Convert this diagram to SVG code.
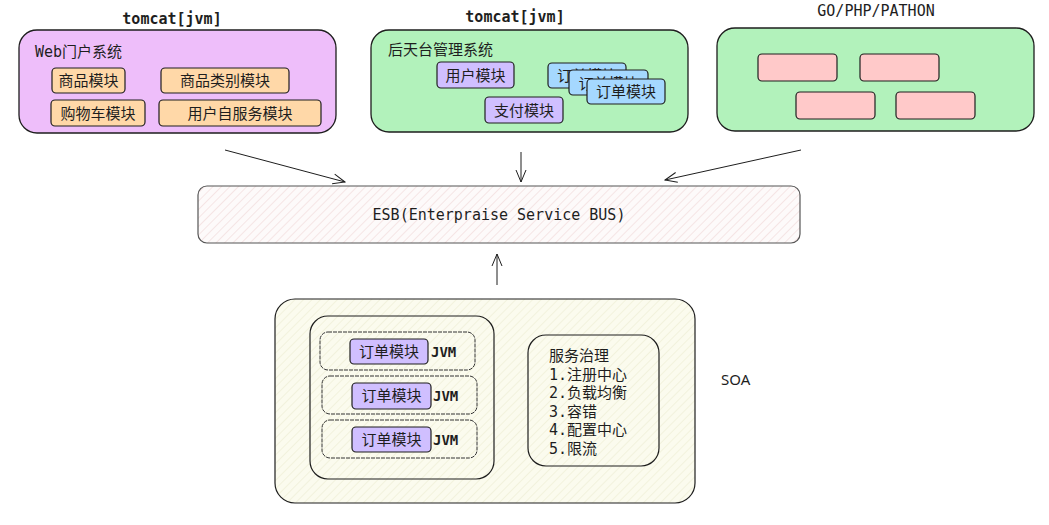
<svg xmlns="http://www.w3.org/2000/svg" width="1049" height="525" viewBox="0 0 1049 525">
<defs>
<pattern id="hatchPink" width="6" height="6" patternUnits="userSpaceOnUse" patternTransform="rotate(45)">
<rect width="6" height="6" fill="#fdfafa"/>
<line x1="0" y1="0" x2="0" y2="6" stroke="#f0d8d8" stroke-width="1.2"/>
</pattern>
<pattern id="hatchYellow" width="6" height="6" patternUnits="userSpaceOnUse" patternTransform="rotate(45)">
<rect width="6" height="6" fill="#fbfbee"/>
<line x1="0" y1="0" x2="0" y2="6" stroke="#ececd2" stroke-width="1.2"/>
</pattern>
<marker id="arr" markerWidth="14" markerHeight="12" refX="13" refY="6" orient="auto" markerUnits="userSpaceOnUse">
<path d="M1,1 L13,6 L1,11" fill="none" stroke="#1e1e1e" stroke-width="1"/>
</marker>
</defs>
<style>
.mono{font-family:"DejaVu Sans Mono","Liberation Mono","Noto Sans CJK SC",monospace;fill:#1e1e1e}
.cjk{font-family:"DejaVu Sans Mono","Noto Sans CJK SC",monospace;fill:#1e1e1e}
.box{stroke:#1e1e1e;stroke-width:1.3}
.mod{stroke:#1e1e1e;stroke-width:1.2}
.dash{fill:none;stroke:#333;stroke-width:1;stroke-dasharray:4 1}
.conn{fill:none;stroke:#1e1e1e;stroke-width:1}
.jvm{font-weight:bold}
</style>
<rect width="1049" height="525" fill="#ffffff"/>

<g id="web">
<text class="mono" x="172" y="24" font-size="15" font-weight="bold" text-anchor="middle">tomcat[jvm]</text>
<rect class="box" x="19" y="30" width="317" height="103" rx="18" fill="#eebefa"/>
<text class="cjk" x="35" y="57" font-size="15">Web门户系统</text>
<rect class="mod" x="52" y="68" width="73" height="25" rx="4" fill="#ffd8a8"/>
<text class="cjk" x="88.5" y="86" font-size="15" text-anchor="middle">商品模块</text>
<rect class="mod" x="161" y="68" width="128" height="25" rx="4" fill="#ffd8a8"/>
<text class="cjk" x="225" y="86" font-size="15" text-anchor="middle">商品类别模块</text>
<rect class="mod" x="51" y="100" width="94" height="26" rx="4" fill="#ffd8a8"/>
<text class="cjk" x="98" y="119" font-size="15" text-anchor="middle">购物车模块</text>
<rect class="mod" x="159" y="100" width="162" height="26" rx="4" fill="#ffd8a8"/>
<text class="cjk" x="240" y="119" font-size="15" text-anchor="middle">用户自服务模块</text>
</g>

<g id="admin">
<text class="mono" x="515" y="22" font-size="15" font-weight="bold" text-anchor="middle">tomcat[jvm]</text>
<rect class="box" x="371" y="30" width="317" height="102" rx="18" fill="#b2f2bb"/>
<text class="cjk" x="388" y="55" font-size="15">后天台管理系统</text>
<rect class="mod" x="437" y="62" width="77" height="26" rx="4" fill="#d0bfff"/>
<text class="cjk" x="475.5" y="81" font-size="15" text-anchor="middle">用户模块</text>
<rect class="mod" x="485" y="97" width="78" height="26" rx="4" fill="#d0bfff"/>
<text class="cjk" x="524" y="116" font-size="15" text-anchor="middle">支付模块</text>
<rect class="mod" x="548" y="63" width="78" height="25" rx="4" fill="#a5d8ff"/>
<text class="cjk" x="587" y="81" font-size="15" text-anchor="middle">订单模块</text>
<rect class="mod" x="569" y="70" width="79" height="25" rx="4" fill="#a5d8ff"/>
<text class="cjk" x="608.5" y="89" font-size="15" text-anchor="middle">订单模块</text>
<rect class="mod" x="587" y="79" width="78" height="25" rx="4" fill="#a5d8ff"/>
<text class="cjk" x="626" y="97" font-size="15" text-anchor="middle">订单模块</text>
</g>

<g id="other">
<text class="mono" x="876" y="16" font-size="15" text-anchor="middle">GO/PHP/PATHON</text>
<rect class="box" x="717" y="28" width="317" height="103" rx="18" fill="#b2f2bb"/>
<rect class="mod" x="758" y="54" width="79" height="27" rx="4" fill="#ffc9c9"/>
<rect class="mod" x="860" y="54" width="79" height="27" rx="4" fill="#ffc9c9"/>
<rect class="mod" x="796" y="92" width="79" height="27" rx="4" fill="#ffc9c9"/>
<rect class="mod" x="896" y="92" width="79" height="27" rx="4" fill="#ffc9c9"/>
</g>

<g id="esb">
<rect x="198" y="186" width="602" height="57" rx="9" fill="url(#hatchPink)" stroke="#555" stroke-width="1.2"/>
<text class="mono" x="499" y="220" font-size="15" text-anchor="middle">ESB(Enterpraise Service BUS)</text>
</g>

<g id="soa">
<rect x="275" y="299" width="420" height="204" rx="20" fill="url(#hatchYellow)" stroke="#1e1e1e" stroke-width="1.2"/>
<rect x="310" y="316" width="184" height="163" rx="18" fill="none" stroke="#1e1e1e" stroke-width="1.2"/>
<rect class="dash" x="320" y="332" width="155" height="38" rx="8"/>
<rect class="dash" x="322" y="376" width="155" height="38" rx="8"/>
<rect class="dash" x="322" y="420" width="155" height="38" rx="8"/>
<rect class="mod" x="350" y="339" width="78" height="25" rx="4" fill="#d0bfff"/>
<text class="cjk" x="389" y="357" font-size="15" text-anchor="middle">订单模块</text>
<text class="mono jvm" x="431" y="357" font-size="14">JVM</text>
<rect class="mod" x="352" y="383" width="79" height="26" rx="4" fill="#d0bfff"/>
<text class="cjk" x="391.5" y="401" font-size="15" text-anchor="middle">订单模块</text>
<text class="mono jvm" x="433" y="401" font-size="14">JVM</text>
<rect class="mod" x="352" y="427" width="79" height="25" rx="4" fill="#d0bfff"/>
<text class="cjk" x="391.5" y="445" font-size="15" text-anchor="middle">订单模块</text>
<text class="mono jvm" x="433" y="445" font-size="14">JVM</text>
<rect x="528" y="335" width="131" height="131" rx="18" fill="none" stroke="#1e1e1e" stroke-width="1.2"/>
<text class="cjk" font-size="15">
<tspan x="549" y="361">服务治理</tspan>
<tspan x="549" y="380">1.注册中心</tspan>
<tspan x="549" y="398">2.负载均衡</tspan>
<tspan x="549" y="417">3.容错</tspan>
<tspan x="549" y="435">4.配置中心</tspan>
<tspan x="549" y="454">5.限流</tspan>
</text>
<text x="721" y="385" font-family="'Noto Sans','Liberation Sans',sans-serif" font-size="15" fill="#1e1e1e">SOA</text>
</g>

<g id="connectors">
<line class="conn" x1="225" y1="150" x2="345" y2="182" marker-end="url(#arr)"/>
<line class="conn" x1="521" y1="152" x2="521" y2="182" marker-end="url(#arr)"/>
<line class="conn" x1="801" y1="150" x2="665" y2="180" marker-end="url(#arr)"/>
<line class="conn" x1="497" y1="285" x2="497" y2="254" marker-end="url(#arr)"/>
</g>
</svg>
